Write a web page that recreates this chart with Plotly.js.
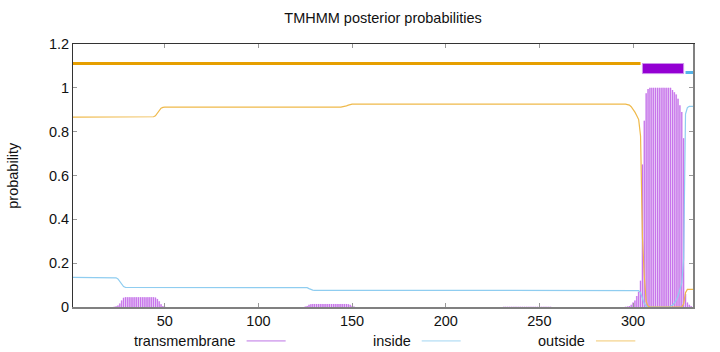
<!DOCTYPE html>
<html><head><meta charset="utf-8">
<script src="https://cdn.plot.ly/plotly-3.0.1.min.js"></script>
<style>html,body{margin:0;padding:0;background:#fff}#chart{width:720px;height:352px}</style>
</head><body><div id="chart"></div>
<script>
const chartTitle = 'TMHMM posterior probabilities';
const yLabel = 'probability';
const seriesNames = ['transmembrane', 'inside', 'outside'];
const seqLength = 332;

// transmembrane posterior (impulses), residues with non-zero probability
const tmPos = [23,24,25,26,27,28,29,30,31,32,33,34,35,36,37,38,39,40,41,42,43,44,45,46,47,48,49,50,
  125,126,127,128,129,130,131,132,133,134,135,136,137,138,139,140,141,142,143,144,145,146,147,148,149,150,151,
  231,232,233,234,235,236,237,238,239,240,241,242,243,244,245,246,247,248,249,250,251,252,253,254,255,256,
  296,297,298,299,300,301,302,303,304,305,306,307,308,309,310,311,312,313,314,315,316,317,318,319,320,321,322,323,324,325,326,327,328,329,330,331];
const tmProb = [0.001,0.003,0.007,0.016,0.03,0.042,0.045,0.045,0.045,0.045,0.045,0.045,0.045,0.045,0.045,0.045,0.045,0.045,0.045,0.045,0.045,0.045,0.043,0.037,0.026,0.012,0.004,0.001,
  0.002,0.005,0.01,0.013,0.014,0.014,0.014,0.014,0.014,0.014,0.014,0.014,0.014,0.014,0.014,0.014,0.014,0.014,0.014,0.014,0.014,0.014,0.014,0.013,0.01,0.005,0.002,
  0.001,0.001,0.001,0.001,0.001,0.001,0.001,0.001,0.001,0.001,0.001,0.001,0.001,0.001,0.001,0.001,0.001,0.001,0.001,0.001,0.001,0.001,0.001,0.001,0.001,0.001,
  0.001,0.002,0.004,0.01,0.02,0.03,0.05,0.07,0.12,0.65,0.85,0.975,0.995,1,1,1,1,1,1,1,1,1,1,1,1,0.99,0.98,0.97,0.95,0.92,0.89,0.77,0.06,0.02,0.01,0.004];

// inside posterior (line)
const insidePos = [1,23,24,25,26,27,28,29,125,126,127,128,129,130,302,303,304,305,306,307,308,319,320,321,322,323,324,325,326,327,328,329,330,332];
const insideProb = [0.135,0.135,0.133,0.128,0.117,0.102,0.093,0.09,0.09,0.088,0.084,0.08,0.077,0.076,0.076,0.075,0.065,0.04,0.015,0.004,0,0,0.003,0.008,0.018,0.03,0.05,0.08,0.11,0.22,0.88,0.91,0.915,0.915];

// outside posterior (line)
const outsidePos = [1,43,44,45,46,47,48,49,50,144,145,146,147,148,149,150,296,297,298,299,300,301,302,303,304,305,306,307,308,309,326,327,328,329,332];
const outsideProb = [0.866,0.866,0.868,0.872,0.882,0.897,0.907,0.911,0.912,0.912,0.913,0.915,0.918,0.921,0.924,0.926,0.926,0.925,0.921,0.914,0.903,0.889,0.873,0.855,0.78,0.32,0.14,0.025,0.004,0,0,0.015,0.065,0.08,0.08];

// predicted topology
const topoLabel = ['outside', 'TMhelix', 'inside'];
const topoStart = [1, 305, 328];
const topoEnd = [304, 327, 332];

const FONT = 'Liberation Sans, Arial, Helvetica, sans-serif';
const FS = 14.5;
const traces = [];
traces.push({type:'bar', x: tmPos, y: tmProb, width: 1, marker:{color:'#DFB9F3', line:{width:0}}, hoverinfo:'skip'});
traces.push({type:'bar', x: tmPos, y: tmProb, width: 0.42, marker:{color:'#C262E8', line:{width:0}}, name: seriesNames[0]});
traces.push({type:'scatter', mode:'lines', x: insidePos, y: insideProb, line:{color:'#8FCDF0', width:1.2}, name: seriesNames[1]});
traces.push({type:'scatter', mode:'lines', x: outsidePos, y: outsideProb, line:{color:'#EFB94A', width:1.2}, name: seriesNames[2]});

for (let i = 0; i < topoLabel.length; i++) {
  const s = topoStart[i], e = topoEnd[i];
  if (topoLabel[i] === 'TMhelix') {
    traces.push({type:'scatter', mode:'lines', x:[s, e, e, s, s], y:[1.065, 1.065, 1.111, 1.111, 1.065],
      fill:'toself', fillcolor:'#9400D3', line:{color:'#CC90EC', width:1}, hoverinfo:'skip'});
  } else if (topoLabel[i] === 'outside') {
    traces.push({type:'scatter', mode:'lines', x:[s, e], y:[1.111, 1.111], line:{color:'#E69F00', width:3}, hoverinfo:'skip'});
  } else {
    traces.push({type:'scatter', mode:'lines', x:[s, e], y:[1.07, 1.07], line:{color:'#56B4E9', width:3}, hoverinfo:'skip'});
  }
}
traces.push({type:'scatter', x:[], y:[], xaxis:'x2', yaxis:'y2', hoverinfo:'skip'});

// legend (gnuplot style: text, then sample)
const legendColors = ['#BE74E6', '#A2D5F2', '#F2C870'];
const legendTextRight = [0.2666, 0.548, 0.8285];
const legendLine = [[0.280, 0.343], [0.5624, 0.6253], [0.8435, 0.907]];
const legendY = -0.129;
const annotations = [];
const shapes = [];
for (let i = 0; i < seriesNames.length; i++) {
  annotations.push({text: seriesNames[i], xref:'paper', yref:'paper', x: legendTextRight[i], y: legendY,
    xanchor:'right', yanchor:'middle', showarrow:false, font:{family:FONT, size:FS, color:'#111'}});
  shapes.push({type:'line', xref:'paper', yref:'paper', x0: legendLine[i][0], x1: legendLine[i][1], y0: legendY, y1: legendY,
    line:{color: legendColors[i], width:1}});
}
annotations.push({text: yLabel, xref:'paper', yref:'paper', x: -0.098, y: 0.5, xanchor:'center', yanchor:'middle',
  textangle:-90, showarrow:false, font:{family:FONT, size:FS, color:'#111'}});

const layout = {
  width: 720, height: 352,
  margin: {l:73, r:27, t:44, b:45, pad:0},
  paper_bgcolor:'#fff', plot_bgcolor:'#fff',
  showlegend: false,
  barmode: 'overlay',
  font: {family: FONT, size: FS, color:'#111'},
  title: {text: chartTitle, font:{family:FONT, size:FS, color:'#111'}, x:0.5, xref:'paper', y: 1 - 18/352, yref:'container', yanchor:'middle'},
  xaxis: {range:[1, seqLength], tick0:0, dtick:50, ticks:'inside', ticklen:4, tickcolor:'#999', showline:true, linecolor:'#808080', linewidth:2,
    showgrid:false, zeroline:false, tickfont:{family:FONT, size:FS, color:'#111'}},
  xaxis2: {overlaying:'x', side:'top', range:[1, seqLength], tick0:0, dtick:50, ticks:'inside', ticklen:4, tickcolor:'#999', showline:true,
    linecolor:'#333', linewidth:1, showticklabels:false, showgrid:false, zeroline:false},
  yaxis: {range:[0, 1.2], dtick:0.2, ticks:'inside', ticklen:4, tickcolor:'#999', showline:true, linecolor:'#333', linewidth:1,
    showgrid:false, zeroline:false, tickfont:{family:FONT, size:FS, color:'#111'}},
  yaxis2: {overlaying:'y', side:'right', range:[0, 1.2], dtick:0.2, ticks:'inside', ticklen:4, tickcolor:'#999', showline:true,
    linecolor:'#808080', linewidth:2, showticklabels:false, showgrid:false, zeroline:false},
  annotations: annotations,
  shapes: shapes
};
Plotly.newPlot('chart', traces, layout, {staticPlot:true, displayModeBar:false});
</script>
</body></html>
